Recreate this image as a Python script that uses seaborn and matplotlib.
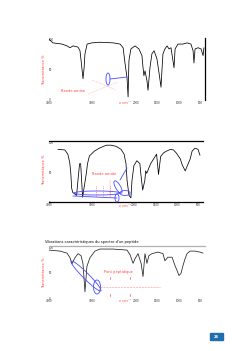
import matplotlib
matplotlib.use("Agg")
import matplotlib.pyplot as plt
from matplotlib.patches import Ellipse, Rectangle
from matplotlib.lines import Line2D
from matplotlib.transforms import Affine2D
import seaborn as sns
import pandas as pd

# ---------------- data ----------------
wn1 = [4000, 3910, 3700, 3585, 3515, 3445, 3330, 3285, 3260, 3215, 3190, 3170, 3120, 3010, 2820,
       2520, 2360, 2290, 2245, 2200, 2175, 2155, 2110, 2015, 1925, 1855, 1830, 1810, 1785, 1740,
       1715, 1670, 1625, 1575, 1510, 1460, 1415, 1390, 1370, 1325, 1275, 1230, 1185, 1140, 1115,
       1090, 1025, 910, 815, 725, 675, 655, 630, 560, 490, 445, 425]
t1 = [100, 94, 92, 89, 86, 89, 87, 81, 65, 35, 53, 76, 92, 94, 95,
      94, 92, 86, 60, 37, 5, 65, 84, 89, 84, 73, 53, 40, 48, 32,
      16, 53, 76, 81, 68, 44, 21, 53, 76, 84, 89, 84, 86, 65, 53,
      84, 92, 92, 94, 92, 81, 61, 84, 86, 84, 73, 86]

wn2 = [3790, 3630, 3560, 3515, 3490, 3470, 3445, 3355, 3330, 3285, 3260, 3215, 3125, 3100, 3055,
       2940, 2825, 2660, 2545, 2430, 2315, 2245, 2200, 2175, 2130, 2085, 2060, 2015, 1945, 1875,
       1855, 1810, 1760, 1740, 1715, 1670, 1625, 1555, 1485, 1440, 1390, 1325, 1255, 1160, 1090,
       1025, 930, 885, 815, 770, 700, 655, 585, 515, 470]
t2 = [88, 87, 80, 66, 48, 23, 16, 11, 31, 64, 64, 8, 49, 64, 77,
      85, 90, 95, 95, 93, 88, 80, 64, 36, 11, 7, 36, 61, 69, 64,
      48, 20, 36, 52, 48, 56, 64, 72, 80, 46, 76, 82, 85, 88, 87,
      82, 72, 62, 52, 60, 72, 85, 90, 88, 78]

wn3 = [4000, 3745, 3585, 3515, 3470, 3400, 3330, 3260, 3215, 3170, 3125, 3055, 2940, 2825, 2525,
       2200, 2130, 2060, 2015, 1945, 1875, 1830, 1785, 1740, 1695, 1625, 1485, 1370, 1325, 1255,
       1160, 1090, 1045, 1000, 955, 910, 860, 815, 745, 630, 515, 445]
t3 = [94, 92, 88, 79, 67, 79, 87, 83, 67, 12, 62, 79, 92, 96, 96,
      94, 85, 68, 77, 87, 68, 42, 87, 68, 83, 87, 90, 87, 73, 80,
      80, 63, 54, 44, 48, 63, 77, 87, 92, 92, 90, 88]

xticks = [4000, 3000, 2000, 1500, 1000, 500]
yticks = [0, 50, 100]
ylabel = "Transmittance %"
xlabel = "ν cm⁻¹"
label1 = "Bande amine"
label2 = "Bande amide"
label3 = "Pont peptidique"
title3 = "Vibrations caractéristiques du spectre d'un peptide"
page = "26"

# ---------------- figure ----------------
sns.set_theme(style="white")
plt.rcParams["font.family"] = ["DejaVu Sans"]
W, H = 248, 351
fig = plt.figure(figsize=(W / 100, H / 100), dpi=100)
fig.patch.set_facecolor("white")
PX = Affine2D().scale(0.01, -0.01).translate(0, H / 100) + fig.dpi_scale_trans


def axes_px(x0, y0, x1, y1):
    return fig.add_axes([x0 / W, 1 - y1 / H, (x1 - x0) / W, (y1 - y0) / H])


def spectrum(ax, wn, t, color="black"):
    df = pd.DataFrame({"wn": wn, "T": t})
    sns.lineplot(data=df, x="wn", y="T", ax=ax, color=color, lw=0.55, estimator=None)
    ax.set_xlim(4000, 400)
    ax.set_ylim(0, 102)
    ax.set_xticks(xticks)
    ax.set_xticklabels([str(v) for v in xticks], fontsize=2, color="#333333")
    ax.set_yticks(yticks)
    ax.set_yticklabels([str(v) for v in yticks], fontsize=2, color="#333333", ha="left")
    ax.tick_params(axis="x", length=0, pad=1)
    ax.tick_params(axis="y", length=0, pad=0)
    ax.set_xlabel("")
    ax.set_ylabel("")
    ax.patch.set_alpha(0)
    for s in ax.spines.values():
        s.set_visible(False)


def ptext(x, y, s, **kw):
    fig.text(x, y, s, transform=PX, **kw)


def pline(xs, ys, **kw):
    fig.add_artist(Line2D(xs, ys, transform=PX, **kw))


def pell(cx, cy, w, h, ang=0, **kw):
    fig.add_artist(Ellipse((cx, cy), w, h, angle=ang, transform=PX, fill=False, **kw))


RED = "#ff4040"
BLUE = "#4a4aff"

# ---- panel 1 ----
ax1 = axes_px(49, 38, 205, 100)
spectrum(ax1, wn1, t1)
ax1.spines["right"].set_visible(True)
ax1.spines["right"].set_color("black")
ax1.spines["right"].set_linewidth(0.9)
ptext(44, 70, ylabel, rotation=90, fontsize=2.6, color=RED, ha="center", va="center")
ptext(125, 103.5, xlabel, fontsize=2.6, color=RED, ha="center", va="center")
ptext(73, 91, label1, fontsize=2.6, color=RED, ha="center", va="center")
pline([88, 118], [94, 82], color=RED, lw=0.4, ls=":", alpha=0.7)
pline([92, 116], [80, 90], color=RED, lw=0.4, ls=":", alpha=0.7)
pell(108, 79, 4, 12, 0, ec=BLUE, lw=0.6)
pline([110, 127], [79, 77], color=BLUE, lw=0.6)

# ---- panel 2 ----
ax2 = axes_px(49, 141, 203, 202)
spectrum(ax2, wn2, t2)
for s in ("top", "bottom"):
    ax2.spines[s].set_visible(True)
    ax2.spines[s].set_color("black")
    ax2.spines[s].set_linewidth(0.9)
ptext(44, 170, ylabel, rotation=90, fontsize=2.6, color=RED, ha="center", va="center")
ptext(125, 206, xlabel, fontsize=2.6, color=RED, ha="center", va="center")
ptext(104, 174, label2, fontsize=2.6, color=RED, ha="center", va="center")
for xv in (96, 103, 110):
    pline([xv, xv], [186, 196], color=RED, lw=0.5, ls=":")
pline([110, 110], [180, 196], color=RED, lw=0.3, alpha=0.5)
pell(118, 187, 5, 14, -30, ec=BLUE, lw=0.6)
pline([120, 127], [180, 168], color=BLUE, lw=0.6)
pell(97, 193, 46, 4, 0, ec=BLUE, lw=0.6)
pell(125, 193, 10, 5, 0, ec=BLUE, lw=0.6)
pell(117, 198, 4, 8, 0, ec=BLUE, lw=0.6)
pline([73, 117], [196, 198], color=BLUE, lw=0.6)

# ---- panel 3 ----
ax3 = axes_px(49, 246, 205, 298)
spectrum(ax3, wn3, t3, color="#222222")
ax3.spines["top"].set_visible(True)
ax3.spines["top"].set_color("#b0b0b0")
ax3.spines["top"].set_linewidth(0.9)
ptext(45, 242, title3, fontsize=2.6, color="black", ha="left", va="center")
ptext(44, 273, ylabel, rotation=90, fontsize=2.6, color=RED, ha="center", va="center")
ptext(125, 301.5, xlabel, fontsize=2.6, color=RED, ha="center", va="center")
ptext(118, 272, label3, fontsize=2.6, color=RED, ha="center", va="center")
pline([100, 160], [287, 287], color=RED, lw=0.4, ls="--", alpha=0.6)
for xv in (110, 130):
    pline([xv, xv], [277, 279], color=RED, lw=0.5)
    pline([xv, xv], [294, 296], color=RED, lw=0.5)
pell(86, 276, 42, 6, 45, ec=BLUE, lw=0.6)
pell(97, 287, 7, 14, 0, ec=BLUE, lw=0.6)

# ---- page number ----
fig.add_artist(Rectangle((210, 340), 13, -7, transform=PX, color="#1f6fae"))
ptext(216.5, 336.5, page, fontsize=2.6, color="white", ha="center", va="center", weight="bold")

fig.savefig("out.png", dpi=100)
